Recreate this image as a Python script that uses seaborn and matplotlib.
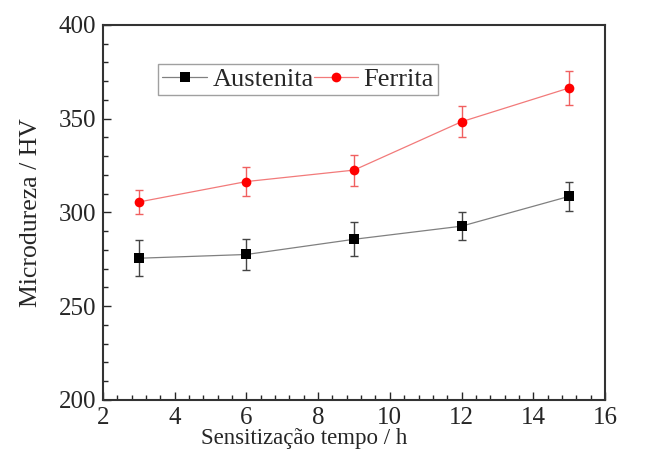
import matplotlib
matplotlib.use('Agg')
import matplotlib.pyplot as plt
import pandas as pd
import numpy as np
import seaborn as sns
from matplotlib.ticker import MultipleLocator

# data
tempo = [3, 6, 9, 12, 15]
austenita = [275.6, 277.6, 285.7, 292.7, 308.6]
austenita_err = [9.6, 8.5, 9.1, 7.4, 7.9]
ferrita = [305.6, 316.5, 322.6, 348.4, 366.4]
ferrita_err = [6.6, 7.6, 8.3, 8.4, 9.1]

df = pd.DataFrame({
    'tempo': tempo * 2,
    'hv': austenita + ferrita,
    'err': austenita_err + ferrita_err,
    'fase': ['Austenita'] * 5 + ['Ferrita'] * 5,
})

marker_col = {'Austenita': 'black', 'Ferrita': 'red'}
line_col = {'Austenita': '#808080', 'Ferrita': '#f27a7a'}
err_col = {'Austenita': '#444444', 'Ferrita': '#f06060'}

sns.set_style('white')
plt.rcParams['font.family'] = ['Liberation Serif', 'DejaVu Serif']

fig = plt.figure(figsize=(6.54, 4.67), dpi=100)
ax = fig.add_axes([0.1575, 0.1435, 0.7675, 0.803])

sns.lineplot(data=df, x='tempo', y='hv', hue='fase', style='fase',
             palette=marker_col,
             markers={'Austenita': 's', 'Ferrita': 'o'}, dashes=False,
             markersize=7, markeredgewidth=0, linewidth=0.9, ax=ax, zorder=3)

# lighter connecting lines, solid markers
for ln in ax.get_lines():
    for fase in marker_col:
        if ln.get_color() == marker_col[fase]:
            ln.set_color(line_col[fase])
            ln.set_markerfacecolor(marker_col[fase])
            ln.set_markeredgecolor(marker_col[fase])

for fase in marker_col:
    sub = df[df['fase'] == fase]
    ax.errorbar(sub['tempo'], sub['hv'], yerr=sub['err'], fmt='none',
                ecolor=err_col[fase], elinewidth=1.0, capsize=3,
                capthick=1.0, zorder=2)

ax.set_xlim(2, 16)
ax.set_ylim(200, 400)
ax.xaxis.set_major_locator(MultipleLocator(2))
ax.xaxis.set_minor_locator(MultipleLocator(0.4))
ax.yaxis.set_major_locator(MultipleLocator(50))
ax.yaxis.set_minor_locator(MultipleLocator(10))
ax.tick_params(which='both', direction='in', top=False, right=False,
               bottom=True, left=True, labelsize=18, pad=5)
ax.tick_params(which='major', length=6, width=1.0)
ax.tick_params(which='minor', length=3.5, width=1.0)
for s in ax.spines.values():
    s.set_color('#333333')
    s.set_linewidth(1.5)

ax.set_xlabel('Sensitização tempo / h', fontsize=16.5, labelpad=1)
ax.xaxis.set_label_coords(0.40, -0.075, transform=ax.transAxes)
ax.xaxis.label.set_va('top')
ax.set_ylabel('Microdureza / HV', fontsize=18.5, labelpad=12)

handles, labels = ax.get_legend_handles_labels()
leg = ax.legend(handles, labels, ncol=2, loc='upper left',
                bbox_to_anchor=(0.11, 0.897), fontsize=19, frameon=True,
                fancybox=False, edgecolor='#888888', borderpad=0.15,
                handlelength=1.7, handletextpad=0.2, columnspacing=0.0,
                borderaxespad=0)
leg.get_frame().set_linewidth(1.0)
for h, t in zip(leg.legend_handles, labels):
    h.set_color(line_col[t])
    h.set_markerfacecolor(marker_col[t])
    h.set_markeredgecolor(marker_col[t])

fig.savefig('out.png', dpi=100)
